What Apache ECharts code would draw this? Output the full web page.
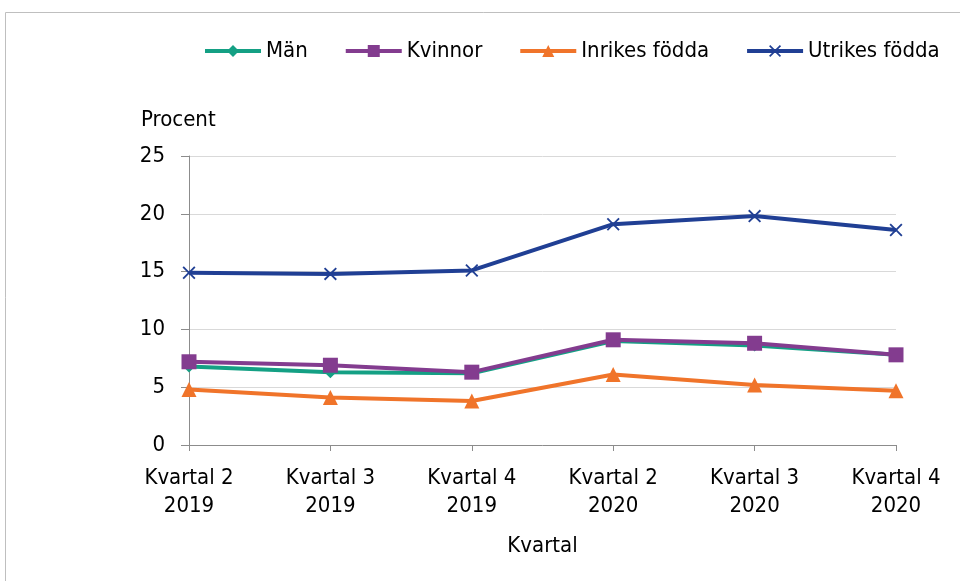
<!DOCTYPE html>
<html>
<head>
<meta charset="utf-8">
<script src="https://cdn.jsdelivr.net/npm/echarts@6/dist/echarts.min.js"></script>
<style>
  html, body { margin: 0; padding: 0; background: #fff; }
  #line { width: 960px; height: 581px; }
</style>
</head>
<body>
<div id="line"></div>
<script>
const categories = ['Kvartal 2\n2019', 'Kvartal 3\n2019', 'Kvartal 4\n2019', 'Kvartal 2\n2020', 'Kvartal 3\n2020', 'Kvartal 4\n2020']
const man = [6.8, 6.3, 6.2, 9.0, 8.6, 7.8]
const kvinnor = [7.2, 6.9, 6.3, 9.1, 8.8, 7.8]
const inrikes = [4.8, 4.1, 3.8, 6.1, 5.2, 4.7]
const utrikes = [14.9, 14.8, 15.1, 19.1, 19.8, 18.6]
const yTicks = { min: 0, max: 25, interval: 5 }

const font = "'DejaVu Sans Condensed', 'Liberation Sans Narrow', 'Noto Sans', sans-serif"
const crossPath = 'path://M0,1L1,0L5,4L9,0L10,1L6,5L10,9L9,10L5,6L1,10L0,9L4,5Z'

var chartDom = document.getElementById('line')
var myChart = echarts.init(chartDom)

const mk = (name, data, color, symbol, size) => ({
  name: name,
  type: 'line',
  data: data,
  symbol: symbol,
  symbolSize: size,
  lineStyle: { color: color, width: 4 },
  itemStyle: { color: color },
  emphasis: { disabled: true },
  animation: false,
})

var option = {
  textStyle: { fontFamily: font },
  graphic: [
    {
      type: 'rect',
      shape: { x: 5.5, y: 12.5, width: 1000, height: 1000 },
      style: { fill: 'none', stroke: '#bfbfbf', lineWidth: 1 },
    },
    {
      type: 'text',
      left: 141,
      top: 109,
      style: { text: 'Procent', font: '22px ' + font, fill: '#000' },
    },
  ],
  legend: {
    left: 198,
    top: 35,
    itemGap: 36,
    itemWidth: 56,
    itemHeight: 15,
    lineStyle: { width: 4 },
    textStyle: { fontSize: 22, color: '#000', fontFamily: font },
    data: ['Män', 'Kvinnor', 'Inrikes födda', 'Utrikes födda'],
  },
  grid: { left: 189, right: 64, top: 156, bottom: 136, containLabel: false },
  xAxis: {
    type: 'category',
    boundaryGap: false,
    data: categories,
    name: 'Kvartal',
    nameLocation: 'middle',
    nameGap: 90,
    nameTextStyle: { fontSize: 22, color: '#000', fontFamily: font },
    axisLine: { lineStyle: { color: '#8c8c8c', width: 1 } },
    axisTick: { show: true, length: 6, lineStyle: { color: '#8c8c8c' } },
    axisLabel: { fontSize: 22, color: '#000', lineHeight: 28, margin: 19, fontFamily: font, interval: 0 },
    splitLine: { show: false },
  },
  yAxis: {
    type: 'value',
    min: yTicks.min,
    max: yTicks.max,
    interval: yTicks.interval,
    axisLine: { show: true, lineStyle: { color: '#8c8c8c', width: 1 } },
    axisTick: { show: true, length: 8, lineStyle: { color: '#8c8c8c' } },
    axisLabel: { fontSize: 22, color: '#000', margin: 24, fontFamily: font },
    splitLine: { lineStyle: { color: '#d9d9d9', width: 1 } },
  },
  series: [
    mk('Män', man, '#14a084', 'diamond', 12),
    mk('Kvinnor', kvinnor, '#833c8f', 'rect', 15),
    mk('Inrikes födda', inrikes, '#f0742a', 'triangle', 15),
    mk('Utrikes födda', utrikes, '#203f94', crossPath, 13),
  ],
}
option && myChart.setOption(option)
window.onresize = () => {
  myChart.resize()
}
</script>
</body>
</html>
